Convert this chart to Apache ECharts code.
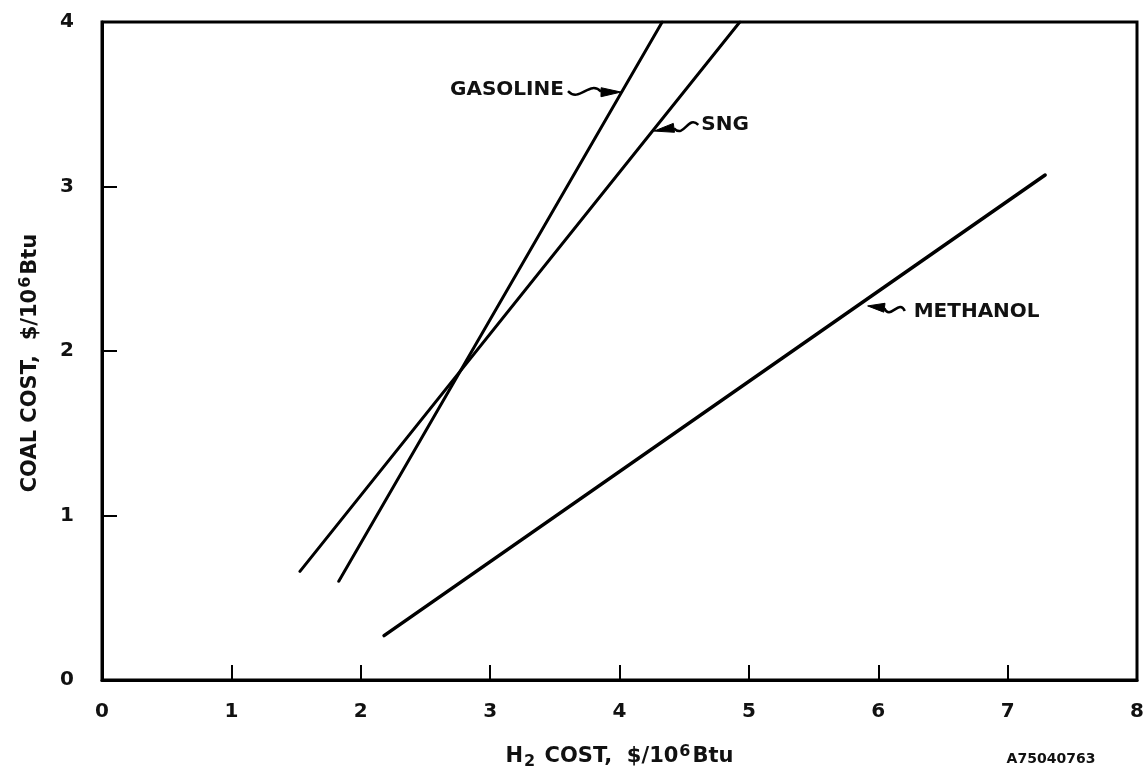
<!DOCTYPE html>
<html><head><meta charset="utf-8">
<script src="https://cdn.jsdelivr.net/npm/echarts/dist/echarts.min.js"></script>
<style>html,body{margin:0;padding:0;background:#fff}#c{width:1143px;height:771px}</style>
</head><body><div id="c"></div>
<script>
// ---- data ----
const xTickValues = [0,1,2,3,4,5,6,7,8];
const yTickValues = [0,1,2,3,4];
const gasoline = [[1.83,0.60],[4.33,4.00]];
const sng      = [[1.53,0.66],[4.93,4.00]];
const methanol = [[2.18,0.27],[7.29,3.07]];
const labelNames  = ['GASOLINE','SNG','METHANOL'];
const labelAnchor = [[3.57,3.587],[4.632,3.374],[6.274,2.237]];
const labelAlign  = ['right','left','left'];
const arrowTail   = [[3.602,3.58],[4.609,3.374],[6.205,2.243]];
const arrowTip    = [[4.012,3.574],[4.268,3.337],[5.918,2.274]];
const xTitle = '{a|H}{sub|2}{a| COST,  $/10}{sup|6}{a|Btu}';
const yTitle = '{a|COAL COST,  $/10}{sup|6}{a|Btu}';
const figCode = 'A75040763';

const FONT = 'DejaVu Sans';
const chart = echarts.init(document.getElementById('c'), null, {renderer:'canvas'});
const richT = {
  a:{fontFamily:FONT,fontWeight:'bold',fontSize:21,color:'#111'},
  sup:{fontFamily:FONT,fontWeight:'bold',fontSize:16,color:'#111',verticalAlign:'top',padding:[0,2,10,1]},
  sub:{fontFamily:FONT,fontWeight:'bold',fontSize:16,color:'#111',verticalAlign:'bottom',padding:[10,2,0,1]}
};
function lineSeries(name,d,w){
  return {type:'line',name:name,data:d,symbol:'none',silent:true,
    lineStyle:{color:'#000',width:w,cap:'round'}};
}
chart.setOption({
  animation:false,
  backgroundColor:'#fff',
  grid:{left:102,right:6,top:22,bottom:91,containLabel:false,outerBoundsMode:'none',
    show:true,borderColor:'#000',borderWidth:3,backgroundColor:'transparent'},
  xAxis:{type:'value',min:0,max:8,interval:1,
    axisLine:{show:true,lineStyle:{color:'#000',width:3}},
    axisTick:{show:true,inside:true,length:15,lineStyle:{color:'#000',width:2}},
    axisLabel:{margin:22,fontFamily:FONT,fontWeight:'bold',fontSize:20,color:'#111',
      formatter:v=>xTickValues.includes(v)?String(v):''},
    splitLine:{show:false},
    name:xTitle,nameLocation:'middle',nameGap:64,
    nameTextStyle:{rich:richT}},
  yAxis:{type:'value',min:0,max:4,interval:1,
    axisLine:{show:true,lineStyle:{color:'#000',width:3}},
    axisTick:{show:true,inside:true,length:15,lineStyle:{color:'#000',width:2}},
    axisLabel:{margin:28,fontFamily:FONT,fontWeight:'bold',fontSize:20,color:'#111',
      formatter:v=>yTickValues.includes(v)?String(v):''},
    splitLine:{show:false},
    name:yTitle,nameLocation:'middle',nameGap:58,
    nameTextStyle:{rich:richT,padding:[0,24,0,0]}},
  series:[lineSeries('GASOLINE',gasoline,3),lineSeries('SNG',sng,3),lineSeries('METHANOL',methanol,3.5)]
});

function px(p){return chart.convertToPixel({gridIndex:0},p);}
const g = [];
for(let i=0;i<labelNames.length;i++){
  const a = px(labelAnchor[i]);
  g.push({type:'text',x:a[0],y:a[1],style:{text:labelNames[i],fontFamily:FONT,fontWeight:'bold',fontSize:20,fill:'#111',
    align:labelAlign[i],verticalAlign:'middle'}});
  const t = px(arrowTail[i]), p = px(arrowTip[i]);
  const dx=p[0]-t[0], dy=p[1]-t[1], L=Math.hypot(dx,dy);
  const ux=dx/L, uy=dy/L, nx=-uy, ny=ux;
  const head=Math.min(20,L*0.45);
  const b=[p[0]-ux*head,p[1]-uy*head];
  const SL=L-head;
  g.push({type:'bezierCurve',shape:{x1:t[0],y1:t[1],x2:b[0],y2:b[1],
      cpx1:t[0]+ux*SL*0.35+nx*12,cpy1:t[1]+uy*SL*0.35+ny*12,
      cpx2:t[0]+ux*SL*0.65-nx*12,cpy2:t[1]+uy*SL*0.65-ny*12},
    style:{stroke:'#000',lineWidth:2.5,fill:null}});
  g.push({type:'polygon',shape:{points:[[p[0],p[1]],[b[0]+nx*5,b[1]+ny*5],[b[0]-nx*4,b[1]-ny*4]]},
    style:{fill:'#000',stroke:'#000',lineWidth:1}});
}
g.push({type:'text',x:1051,y:759,style:{text:figCode,fontFamily:FONT,fontWeight:'bold',fontSize:14,fill:'#111',align:'center',verticalAlign:'middle'}});
chart.setOption({graphic:g});
</script></body></html>
